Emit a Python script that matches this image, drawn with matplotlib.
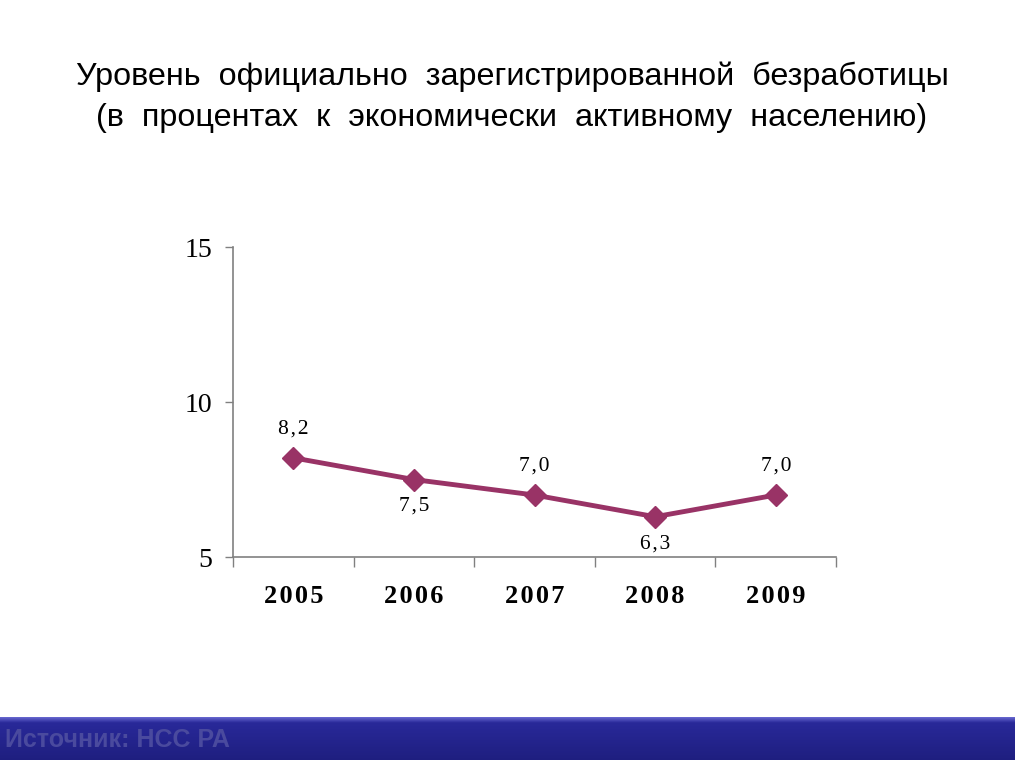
import matplotlib
matplotlib.use("Agg")
import matplotlib.pyplot as plt
import numpy as np

years = ["2005", "2006", "2007", "2008", "2009"]
values = [8.2, 7.5, 7.0, 6.3, 7.0]
labels = ["8,2", "7,5", "7,0", "6,3", "7,0"]
label_above = [True, False, True, False, True]
yticks = [5, 10, 15]

fig = plt.figure(figsize=(10.24, 7.68), dpi=100)
fig.patch.set_facecolor("white")

title1 = "Уровень  официально  зарегистрированной  безработицы"
title2 = "(в  процентах  к  экономически  активному  населению)"
fig.text(0.5, 0.900, title1, ha="center", va="center", fontsize=23.3, family="Liberation Sans")
fig.text(0.5, 0.846, title2, ha="center", va="center", fontsize=23.3, family="Liberation Sans")

ax = fig.add_axes([0.2275, 0.2747, 0.589, 0.4036])
x = np.arange(len(years))
col = "#993366"
ax.plot(x, values, color=col, lw=3.5, marker="D", ms=11, mfc=col, mec=col, zorder=3)
for xi, v, lab, up in zip(x, values, labels, label_above):
    off = 29 if up else -27
    ax.annotate(lab.replace(",", "\u200a,\u200a"), (xi, v), xytext=(0, off),
                textcoords="offset pixels", ha="center", va="center",
                fontsize=15.5, family="Liberation Serif")

ax.set_xlim(-0.5, len(years) - 0.5)
ax.set_ylim(5, 15)
ax.set_yticks(yticks)
ax.set_yticklabels([str(t) for t in yticks], fontsize=20, family="Liberation Serif")
ax.set_xticks(np.arange(-0.5, len(years), 1.0))
ax.set_xticklabels([])
ax.set_xticks(x, minor=True)
ax.set_xticklabels(["\u200a".join(list(y)) for y in years], minor=True, fontsize=19,
                   fontweight="bold", family="Liberation Serif")
ax.tick_params(axis="x", which="major", length=7, width=1, color="#808080", direction="out")
ax.tick_params(axis="x", which="minor", length=0, pad=20)
ax.tick_params(axis="y", length=6, width=1, color="#808080", direction="out", pad=9)
for s in ["top", "right"]:
    ax.spines[s].set_visible(False)
for s in ["left", "bottom"]:
    ax.spines[s].set_color("#808080")
    ax.spines[s].set_linewidth(1.2)

# footer bar
bar = fig.add_axes([0.0, 1 - 760 / 768, 1015 / 1024, 43 / 768])
grad = np.linspace(0, 1, 100)
top = np.array([0.45, 0.45, 0.85])
mid = np.array([0.16, 0.16, 0.6])
bot = np.array([0.12, 0.12, 0.5])
rows = []
for g in grad:
    if g < 0.15:
        c = top + (mid - top) * (g / 0.15)
    else:
        c = mid + (bot - mid) * ((g - 0.15) / 0.85)
    rows.append(c)
img = np.array(rows)[:, None, :].repeat(10, axis=1)
bar.imshow(img, aspect="auto", extent=[0, 1, 0, 1], origin="upper")
bar.set_axis_off()
bar.text(0.005, 0.47, "Источник: НСС РА", ha="left", va="center", fontsize=18,
         fontweight="bold", color="#4a4a9e", family="Liberation Sans")

fig.savefig("out.png", dpi=100)
